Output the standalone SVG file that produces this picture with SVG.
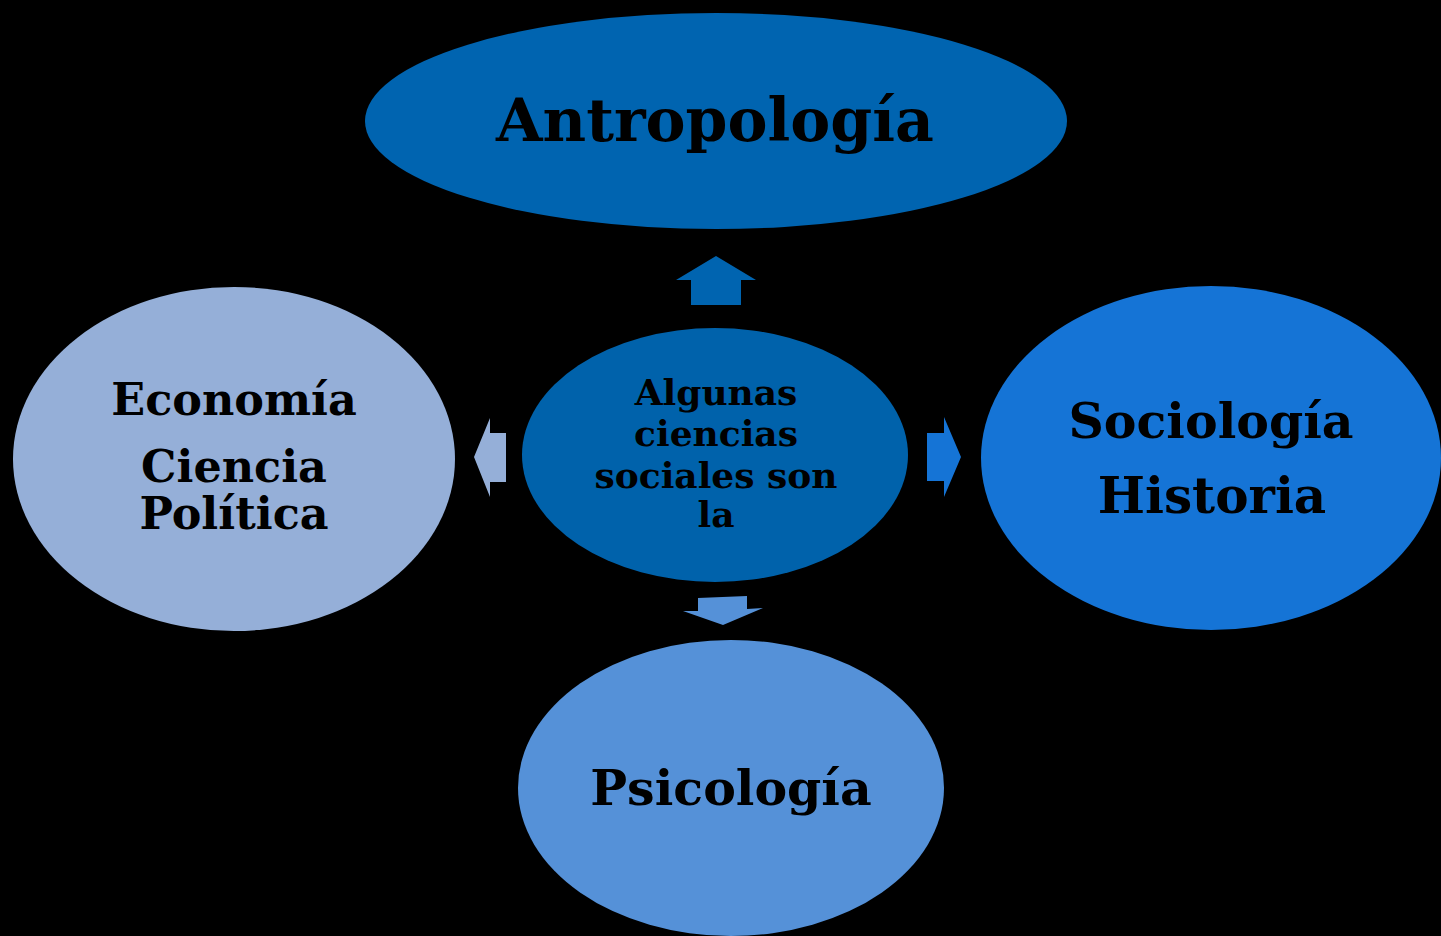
<svg xmlns="http://www.w3.org/2000/svg" width="1441" height="936" viewBox="0 0 1441 936">
<style>
.t{font-family:"DejaVu Serif","Liberation Serif",serif;font-weight:bold;fill:#000;text-anchor:middle}
</style>
<rect width="1441" height="936" fill="#000"/>
<g id="connectors">
<polygon points="716,256 756,280 741,280 741,305 691,305 691,280 676,280" fill="#0064b0"/>
<polygon points="474,457 490,418 490,433 506,433 506,482 490,482 490,497" fill="#95afd8"/>
<polygon points="961,457 944,417 944,433 927,433 927,481 944,481 944,497" fill="#1574d6"/>
<polygon points="698,598 747,596 747,609 763,608 723,625 683,611 698,611" fill="#5591d8"/>
</g>
<g id="antropologia">
<ellipse cx="716" cy="121" rx="351" ry="108" fill="#0064b0"/>
<text class="t" x="715" y="141" font-size="60">Antropología</text>
</g>
<g id="center">
<ellipse cx="715" cy="455" rx="193" ry="127" fill="#0062ab"/>
<text class="t" x="716" y="405" font-size="36">Algunas</text>
<text class="t" x="716" y="446" font-size="36">ciencias</text>
<text class="t" x="716" y="488" font-size="36">sociales son</text>
<text class="t" x="716" y="527" font-size="36">la</text>
</g>
<g id="economia">
<ellipse cx="234" cy="459" rx="221" ry="172" fill="#95afd8"/>
<text class="t" x="234" y="415" font-size="44.5">Economía</text>
<text class="t" x="234" y="482" font-size="44.5">Ciencia</text>
<text class="t" x="234" y="529" font-size="44.5">Política</text>
</g>
<g id="sociologia">
<ellipse cx="1211" cy="458" rx="230" ry="172" fill="#1574d6"/>
<text class="t" x="1211" y="438" font-size="49">Sociología</text>
<text class="t" x="1212" y="513" font-size="50">Historia</text>
</g>
<g id="psicologia">
<ellipse cx="731" cy="788" rx="213" ry="148" fill="#5591d8"/>
<text class="t" x="731" y="805" font-size="49">Psicología</text>
</g>
</svg>
